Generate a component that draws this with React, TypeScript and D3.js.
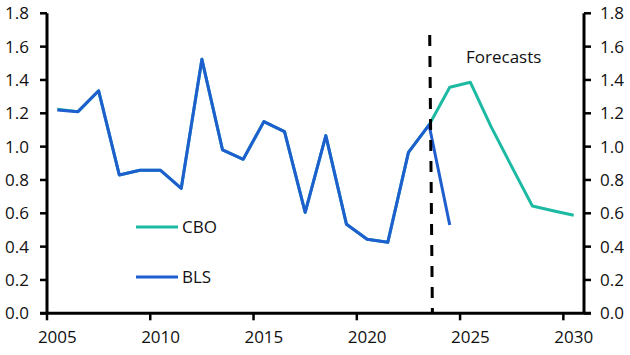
import React from "react";
import * as d3 from "d3";

const blsYears = [2005, 2006, 2007, 2008, 2009, 2010, 2011, 2012, 2013, 2014, 2015, 2016, 2017, 2018, 2019, 2020, 2021, 2022, 2023, 2024];
const blsValues = [1.22, 1.21, 1.335, 0.83, 0.858, 0.858, 0.75, 1.524, 0.98, 0.924, 1.15, 1.09, 0.606, 1.066, 0.534, 0.444, 0.426, 0.966, 1.13, 0.53];
const cboYears = [2005, 2006, 2007, 2008, 2009, 2010, 2011, 2012, 2013, 2014, 2015, 2016, 2017, 2018, 2019, 2020, 2021, 2022, 2023, 2024, 2025, 2026, 2027, 2028, 2029, 2030];
const cboValues = [1.225, 1.21, 1.335, 0.83, 0.858, 0.858, 0.75, 1.524, 0.98, 0.924, 1.15, 1.09, 0.606, 1.066, 0.534, 0.444, 0.426, 0.966, 1.13, 1.356, 1.386, 1.12, 0.88, 0.644, 0.615, 0.588];
const yTicks = [0, 0.2, 0.4, 0.6, 0.8, 1.0, 1.2, 1.4, 1.6, 1.8];
const xTicks = [2005, 2010, 2015, 2020, 2025, 2030];
const forecastLine = { top: 1.67, yearTop: 2023.53, yearBottom: 2023.66 };

const BLUE = "#1f5ecf";
const TEAL = "#1cb9a3";
const FONT = "'Open Sans', sans-serif";

export default function App() {
  const x = d3.scaleLinear().domain([2005, 2031]).range([47, 584]);
  const y = d3.scaleLinear().domain([0, 1.8]).range([313.3, 13.3]);
  const line = d3
    .line<[number, number]>()
    .x((d) => x(d[0] + 0.5))
    .y((d) => y(d[1]));
  const blsData = blsYears.map((yr, i) => [yr, blsValues[i]] as [number, number]);
  const cboData = cboYears.map((yr, i) => [yr, cboValues[i]] as [number, number]);
  const y0 = y(0);

  return (
    <svg width={630} height={355} style={{ position: "absolute", left: 0, top: 0, background: "#fff" }} fontFamily={FONT}>
      {/* series */}
      <path d={line(cboData) || ""} fill="none" stroke={TEAL} strokeWidth={3} strokeLinejoin="round" />
      <path d={line(blsData) || ""} fill="none" stroke={BLUE} strokeWidth={3} strokeLinejoin="round" />

      {/* forecast divider */}
      <line
        x1={x(forecastLine.yearTop)}
        y1={y(forecastLine.top)}
        x2={x(forecastLine.yearBottom)}
        y2={y0}
        stroke="#000"
        strokeWidth={3}
        strokeDasharray="11,10"
      />
      <text x={466} y={63} fontSize={17} fill="#111">Forecasts</text>

      {/* left axis */}
      <line x1={47} y1={y(1.8)} x2={47} y2={y0} stroke="#000" strokeWidth={3} />
      {yTicks.map((t) => (
        <g key={"l" + t}>
          <line x1={40} x2={47} y1={y(t)} y2={y(t)} stroke="#000" strokeWidth={2.5} />
          <text x={29} y={y(t)} dy="0.36em" textAnchor="end" fontSize={17} fill="#111">
            {t.toFixed(1)}
          </text>
        </g>
      ))}

      {/* right axis */}
      <line x1={584} y1={y(1.8)} x2={584} y2={y0} stroke="#000" strokeWidth={3} />
      {yTicks.map((t) => (
        <g key={"r" + t}>
          <line x1={584} x2={591} y1={y(t)} y2={y(t)} stroke="#000" strokeWidth={2.5} />
          <text x={600} y={y(t)} dy="0.36em" textAnchor="start" fontSize={17} fill="#111">
            {t.toFixed(1)}
          </text>
        </g>
      ))}

      {/* bottom axis */}
      <line x1={40} x2={591} y1={y0} y2={y0} stroke="#000" strokeWidth={3} />
      {xTicks.map((t) => (
        <g key={"x" + t}>
          <line x1={x(t)} x2={x(t)} y1={y0} y2={y0 + 7} stroke="#000" strokeWidth={2.5} />
          <text x={x(t + 0.5)} y={343} textAnchor="middle" fontSize={17} fill="#111">
            {t}
          </text>
        </g>
      ))}

      {/* legend */}
      <line x1={136} x2={178} y1={227} y2={227} stroke={TEAL} strokeWidth={3} />
      <text x={182} y={227} dy="0.36em" fontSize={17} fill="#111">CBO</text>
      <line x1={136} x2={178} y1={277} y2={277} stroke={BLUE} strokeWidth={3} />
      <text x={182} y={277} dy="0.36em" fontSize={17} fill="#111">BLS</text>
    </svg>
  );
}
